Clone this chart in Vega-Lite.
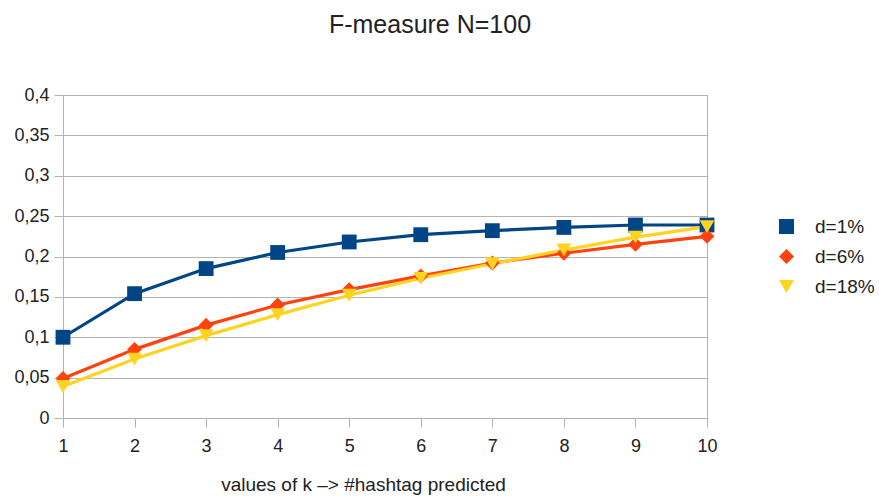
{
  "$schema": "https://vega.github.io/schema/vega-lite/v6.json",
  "width": 644,
  "height": 323,
  "autosize": {"type": "none"},
  "padding": {"left": 63, "top": 95, "right": 172, "bottom": 80},
  "background": "white",
  "title": {
    "text": "F-measure N=100",
    "font": "Liberation Sans",
    "fontSize": 25,
    "fontWeight": "normal",
    "color": "#222222",
    "anchor": "middle",
    "dx": 45,
    "offset": 48
  },
  "data": {
    "values": [
      {"k": 1, "d": "d=1%", "f": 0.100},
      {"k": 2, "d": "d=1%", "f": 0.154},
      {"k": 3, "d": "d=1%", "f": 0.185},
      {"k": 4, "d": "d=1%", "f": 0.205},
      {"k": 5, "d": "d=1%", "f": 0.218},
      {"k": 6, "d": "d=1%", "f": 0.227},
      {"k": 7, "d": "d=1%", "f": 0.232},
      {"k": 8, "d": "d=1%", "f": 0.236},
      {"k": 9, "d": "d=1%", "f": 0.239},
      {"k": 10, "d": "d=1%", "f": 0.239},
      {"k": 1, "d": "d=6%", "f": 0.049},
      {"k": 2, "d": "d=6%", "f": 0.085},
      {"k": 3, "d": "d=6%", "f": 0.115},
      {"k": 4, "d": "d=6%", "f": 0.140},
      {"k": 5, "d": "d=6%", "f": 0.159},
      {"k": 6, "d": "d=6%", "f": 0.176},
      {"k": 7, "d": "d=6%", "f": 0.192},
      {"k": 8, "d": "d=6%", "f": 0.204},
      {"k": 9, "d": "d=6%", "f": 0.215},
      {"k": 10, "d": "d=6%", "f": 0.225},
      {"k": 1, "d": "d=18%", "f": 0.039},
      {"k": 2, "d": "d=18%", "f": 0.073},
      {"k": 3, "d": "d=18%", "f": 0.102},
      {"k": 4, "d": "d=18%", "f": 0.128},
      {"k": 5, "d": "d=18%", "f": 0.152},
      {"k": 6, "d": "d=18%", "f": 0.173},
      {"k": 7, "d": "d=18%", "f": 0.191},
      {"k": 8, "d": "d=18%", "f": 0.208},
      {"k": 9, "d": "d=18%", "f": 0.224},
      {"k": 10, "d": "d=18%", "f": 0.237}
    ]
  },
  "encoding": {
    "x": {
      "field": "k",
      "type": "quantitative",
      "scale": {"domain": [1, 10], "nice": false, "zero": false},
      "axis": {
        "values": [1, 2, 3, 4, 5, 6, 7, 8, 9, 10],
        "format": "d",
        "grid": false,
        "labelFlush": false,
        "title": "values of k –> #hashtag predicted",
        "titleX": 300,
        "titleY": 57,
        "titleBaseline": "top",
        "titleFontSize": 19,
        "titleFontWeight": "normal",
        "tickSize": 9,
        "labelPadding": 10,
        "labelFontSize": 18
      }
    },
    "y": {
      "field": "f",
      "type": "quantitative",
      "scale": {"domain": [0, 0.4], "nice": false},
      "axis": {
        "values": [0, 0.05, 0.1, 0.15, 0.2, 0.25, 0.3, 0.35, 0.4],
        "labelExpr": "replace(format(datum.value, '.2~f'), '.', ',')",
        "labelFlush": false,
        "title": null,
        "tickSize": 9,
        "labelPadding": 5,
        "labelFontSize": 18
      }
    },
    "color": {
      "field": "d",
      "type": "nominal",
      "scale": {"domain": ["d=1%", "d=6%", "d=18%"], "range": ["#004586", "#ff420e", "#ffd320"]},
      "legend": {
        "title": null,
        "orient": "none",
        "legendX": 714,
        "legendY": 122,
        "symbolSize": 225,
        "symbolStrokeWidth": 0,
        "symbolOpacity": 1,
        "rowPadding": 10,
        "labelOffset": 19,
        "labelFontSize": 19
      }
    }
  },
  "layer": [
    {
      "mark": {"type": "line", "strokeWidth": 3.2}
    },
    {
      "mark": {"type": "point", "filled": true, "opacity": 1, "size": 220},
      "encoding": {
        "shape": {
          "field": "d",
          "type": "nominal",
          "scale": {"domain": ["d=1%", "d=6%", "d=18%"], "range": ["square", "diamond", "triangle-down"]},
          "legend": null
        }
      }
    }
  ],
  "config": {
    "font": "Liberation Sans",
    "view": {"stroke": "#b3b3b3", "strokeWidth": 1},
    "axis": {
      "domainColor": "#b3b3b3",
      "tickColor": "#b3b3b3",
      "gridColor": "#b3b3b3",
      "gridOpacity": 1,
      "labelColor": "#222222",
      "titleColor": "#222222",
      "labelFont": "Liberation Sans",
      "titleFont": "Liberation Sans"
    },
    "legend": {"labelColor": "#222222", "labelFont": "Liberation Sans"}
  }
}
